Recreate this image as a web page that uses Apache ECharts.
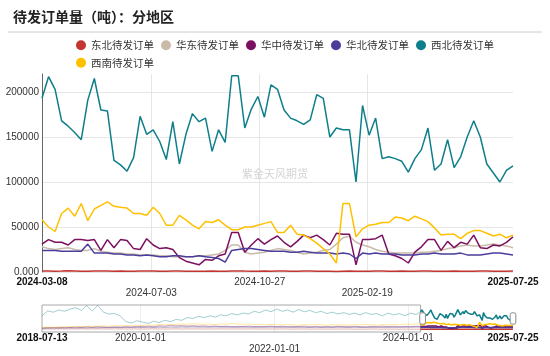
<!DOCTYPE html>
<html><head><meta charset="utf-8">
<script src="https://cdn.jsdelivr.net/npm/echarts@6/dist/echarts.min.js"></script>
<style>html,body{margin:0;padding:0;background:#fff}#c{width:550px;height:356px}</style>
</head><body><div id="c"></div><script>
const titleText = '待发订单量（吨）：分地区';
const watermarkText = '紫金天风期货';
const seriesNames = ['东北待发订单','华东待发订单','华中待发订单','华北待发订单','西北待发订单','西南待发订单'];
const seriesColors = ['#c23531','#c9bba8','#7b1060','#4a3d9c','#0e7f8a','#ffc000'];

const yTickValues = [0, 50000, 100000, 150000, 200000];
const yTickLabels = ['0.000', '50000', '100000', '150000', '200000'];
const mainTickLabels = ['2024-03-08','2024-07-03','2024-10-27','2025-02-19','2025-07-25'];
const sliderTickLabels = ['2018-07-13','2020-01-01','2022-01-01','2024-01-01','2025-07-25'];

const recentDates = [
'2024-03-08','2024-03-15','2024-03-22','2024-03-29','2024-04-05','2024-04-12','2024-04-19','2024-04-26','2024-05-03','2024-05-10',
'2024-05-17','2024-05-24','2024-05-31','2024-06-07','2024-06-14','2024-06-21','2024-06-28','2024-07-05','2024-07-12','2024-07-19',
'2024-07-26','2024-08-02','2024-08-09','2024-08-16','2024-08-23','2024-08-30','2024-09-06','2024-09-13','2024-09-20','2024-09-27',
'2024-10-04','2024-10-11','2024-10-18','2024-10-25','2024-11-01','2024-11-08','2024-11-15','2024-11-22','2024-11-29','2024-12-06',
'2024-12-13','2024-12-20','2024-12-27','2025-01-03','2025-01-10','2025-01-17','2025-01-24','2025-01-31','2025-02-07','2025-02-14',
'2025-02-21','2025-02-28','2025-03-07','2025-03-14','2025-03-21','2025-03-28','2025-04-04','2025-04-11','2025-04-18','2025-04-25',
'2025-05-02','2025-05-09','2025-05-16','2025-05-23','2025-05-30','2025-06-06','2025-06-13','2025-06-20','2025-06-27','2025-07-04',
'2025-07-11','2025-07-18','2025-07-25'];

const northeastRecent = [
1200,1100,900,1000,1300,1100,900,800,1000,1200,
1100,900,1000,800,900,1100,1000,1200,900,800,
1000,1100,900,800,700,900,1000,800,900,1100,
1200,1000,900,800,1000,900,1100,1000,800,900,
1000,1100,900,800,700,600,900,1000,800,700,
900,1000,1100,900,800,1000,900,800,1000,1100,
900,800,900,1000,800,700,900,1000,1100,900,
800,900,1000];
const eastRecent = [
28000,26000,25000,26000,27000,25000,24000,24000,26000,23000,
22000,21000,21000,20000,20000,19000,19000,19000,18000,18000,
17000,17000,17000,17000,18000,18000,19000,20000,24000,30000,
30000,22000,20000,21000,22000,24000,26000,25000,24000,22000,
20000,21000,22000,24000,25000,31000,38000,40000,33000,30000,
28000,25000,23000,22000,21000,21000,21000,21000,22000,22000,
23000,24000,26000,27000,29000,30000,29000,29000,30000,31000,
30000,29000,27000];
const centralRecent = [
31000,36000,33000,33000,30000,36000,36000,35000,36000,24000,
36000,27000,36000,35000,26000,25000,37000,30000,26000,27000,
25000,16000,12000,10000,8000,14000,13000,18000,20000,44000,
44000,22000,30000,37000,31000,36000,40000,33000,28000,34000,
41000,38000,41000,36000,30000,43000,42000,42000,8000,36000,
36000,37000,41000,20000,18000,15000,10000,22000,28000,36000,
36000,24000,34000,27000,33000,31000,41000,27000,26000,30000,
29000,33000,39000];
const northRecent = [
24000,24000,24000,23000,23000,23000,23000,31000,21000,21000,
21000,20000,20000,19000,19000,18000,19000,18000,17000,17000,
18000,18000,17000,17000,18000,17000,16000,15000,11000,24000,
25000,26000,26000,25000,24000,23000,23000,23000,22000,22000,
23000,22000,21000,21000,21000,20000,21000,20000,15000,21000,
20000,21000,20000,20000,20000,19000,19000,19000,20000,20000,
21000,20000,20000,20000,21000,19000,19000,19000,20000,21000,
21000,20000,19000];
const northwestRecent = [
193000,217000,203000,168000,162000,155000,147000,191000,215000,180000,
179000,124000,119000,112000,127000,173000,153000,158000,145000,125000,
167000,120000,153000,176000,167000,171000,134000,158000,144000,218000,
218000,160000,181000,195000,172000,208000,203000,180000,171000,168000,
164000,169000,197000,193000,150000,160000,158000,158000,100000,185000,
152000,171000,126000,128000,126000,123000,111000,126000,136000,160000,
113000,120000,147000,116000,128000,150000,168000,150000,120000,110000,
100000,113000,118000];
const southwestRecent = [
58000,50000,45000,65000,71000,62000,76000,57000,70000,74000,
78000,73000,72000,71000,65000,65000,63000,72000,65000,52000,
52000,63000,58000,52000,48000,56000,55000,58000,52000,47000,
47000,50000,50000,52000,54000,56000,44000,44000,52000,42000,
41000,37000,32000,26000,20000,10000,76000,76000,39000,48000,
52000,53000,55000,55000,61000,60000,57000,62000,59000,56000,
49000,41000,42000,42000,37000,43000,46000,46000,43000,40000,
42000,38000,41000];

const historyDates = [
'2018-07-13','2018-08-13','2018-09-13','2018-10-13','2018-11-13','2018-12-13',
'2019-01-13','2019-02-13','2019-03-13','2019-04-13','2019-05-13','2019-06-13','2019-07-13','2019-08-13','2019-09-13','2019-10-13','2019-11-13','2019-12-13',
'2020-01-13','2020-02-13','2020-03-13','2020-04-13','2020-05-13','2020-06-13','2020-07-13','2020-08-13','2020-09-13','2020-10-13','2020-11-13','2020-12-13',
'2021-01-13','2021-02-13','2021-03-13','2021-04-13','2021-05-13','2021-06-13','2021-07-13','2021-08-13','2021-09-13','2021-10-13','2021-11-13','2021-12-13',
'2022-01-13','2022-02-13','2022-03-13','2022-04-13','2022-05-13','2022-06-13','2022-07-13','2022-08-13','2022-09-13','2022-10-13','2022-11-13','2022-12-13',
'2023-01-13','2023-02-13','2023-03-13','2023-04-13','2023-05-13','2023-06-13','2023-07-13','2023-08-13','2023-09-13','2023-10-13','2023-11-13','2023-12-13',
'2024-01-13','2024-02-13'];
const northeastHistory = [
3000,4000,3000,5000,4000,3000,
4000,5000,3000,4000,5000,4000,3000,4000,5000,3000,4000,4000,
3000,4000,5000,4000,3000,4000,5000,3000,4000,5000,4000,3000,
4000,3000,5000,4000,3000,4000,3000,5000,4000,3000,4000,3000,
3000,4000,3000,2000,3000,4000,2000,3000,2000,3000,2000,3000,
2000,3000,2000,1000,2000,3000,2000,1000,2000,2000,1000,2000,
1000,1000];
const eastHistory = [
10000,12000,11000,14000,12000,15000,
14000,16000,15000,18000,16000,19000,17000,20000,18000,21000,19000,22000,
20000,23000,21000,25000,22000,26000,24000,28000,25000,27000,24000,26000,
25000,28000,26000,30000,27000,25000,28000,24000,27000,25000,28000,26000,
24000,27000,25000,23000,26000,24000,22000,25000,23000,26000,24000,27000,
25000,23000,26000,24000,22000,25000,23000,26000,24000,27000,25000,28000,
26000,28000];
const centralHistory = [
15000,18000,20000,17000,22000,20000,
25000,22000,28000,24000,30000,26000,22000,28000,25000,30000,27000,32000,
30000,35000,28000,40000,35000,45000,38000,42000,36000,40000,35000,38000,
32000,36000,30000,34000,28000,32000,30000,35000,28000,33000,30000,35000,
30000,34000,28000,32000,30000,35000,28000,32000,27000,30000,28000,33000,
30000,28000,33000,30000,27000,32000,29000,35000,30000,33000,28000,32000,
30000,34000];
const northHistory = [
12000,14000,13000,15000,14000,16000,
15000,17000,16000,18000,17000,19000,18000,20000,19000,21000,20000,22000,
21000,23000,22000,24000,23000,25000,24000,26000,25000,27000,26000,25000,
24000,26000,25000,23000,24000,22000,25000,23000,24000,22000,23000,25000,
23000,22000,24000,21000,23000,22000,20000,23000,21000,22000,20000,23000,
22000,21000,23000,20000,22000,21000,23000,20000,22000,21000,23000,22000,
23000,24000];
const northwestHistory = [
150000,205000,190000,215000,200000,225000,
240000,210000,262000,205000,265000,190000,170000,175000,150000,85000,70000,95000,
80000,65000,90000,75000,100000,85000,110000,100000,130000,120000,145000,130000,
150000,135000,160000,150000,175000,160000,180000,170000,200000,185000,215000,195000,
225000,200000,215000,190000,220000,195000,210000,185000,200000,175000,190000,170000,
185000,165000,180000,160000,185000,165000,175000,150000,180000,160000,175000,150000,
180000,165000];
const southwestHistory = [
20000,25000,22000,28000,25000,30000,
28000,32000,30000,35000,33000,38000,35000,40000,38000,42000,40000,45000,
42000,48000,45000,52000,50000,55000,52000,60000,55000,62000,58000,55000,
58000,52000,60000,55000,65000,58000,55000,60000,52000,58000,50000,55000,
52000,48000,55000,50000,45000,52000,48000,55000,50000,45000,52000,48000,
50000,45000,52000,48000,55000,50000,45000,52000,48000,55000,50000,58000,
55000,60000];

const recentSets = [northeastRecent, eastRecent, centralRecent, northRecent, northwestRecent, southwestRecent];
const historySets = [northeastHistory, eastHistory, centralHistory, northHistory, northwestHistory, southwestHistory];

const P = s => echarts.number.parseDate(s).getTime();
const pairs = (dates, vals) => vals.map((v, i) => [P(dates[i]), v]);
function findLabel(list, v){ return list.findIndex(s => Math.abs(P(s) - v) < 6 * 3600000); }

const MIN = 60000;
const mainRows = [1, 2, 1, 2, 1];
const sliderRows = [1, 1, 2, 1, 1];
function labelValues(list){
  return list.map((s, i) => i === 0 ? P(s) + MIN : (i === list.length - 1 ? P(s) - MIN : P(s)));
}
function makeFormatter(list, rows){
  return function(v){
    const i = findLabel(list, v);
    if (i < 0) return '';
    const s = list[i];
    const bold = (i === 0 || i === list.length - 1);
    const t = bold ? '{b|' + s + '}' : '{n|' + s + '}';
    return rows[i] === 2 ? '{n|}\n' + t : t;
  };
}
const rich = {
  b: { fontWeight: 'bold', color: '#111', fontSize: 10, lineHeight: 11 },
  n: { color: '#333', fontSize: 10, lineHeight: 11 }
};

const series = [];
seriesNames.forEach((name, k) => {
  series.push({
    name, type: 'line', xAxisIndex: 0, yAxisIndex: 0, data: pairs(recentDates, recentSets[k]),
    symbol: 'none', showSymbol: false, color: seriesColors[k],
    lineStyle: { width: 1.5, color: seriesColors[k] }, z: 2 + k
  });
});
seriesNames.forEach((name, k) => {
  const full = pairs(historyDates, historySets[k]).concat(pairs(recentDates, recentSets[k]));
  const s = {
    name, type: 'line', xAxisIndex: 1, yAxisIndex: 1, data: full, silent: true,
    symbol: 'none', showSymbol: false, color: seriesColors[k],
    lineStyle: { width: 1, color: seriesColors[k], opacity: 0.38 }, z: 2
  };
  if (k === 0) {
    s.markArea = {
      silent: true,
      itemStyle: { color: 'rgba(0,0,0,0)', borderColor: '#a8a8a8', borderWidth: 1 },
      data: [[{ xAxis: P(historyDates[0]) }, { xAxis: P(recentDates[0]) }]]
    };
  }
  series.push(s);
});
seriesNames.forEach((name, k) => {
  series.push({
    name, type: 'line', xAxisIndex: 1, yAxisIndex: 1, data: pairs(recentDates, recentSets[k]), silent: true,
    symbol: 'none', showSymbol: false, color: seriesColors[k],
    lineStyle: { width: 1.5, color: seriesColors[k] }, z: 3
  });
});
// invisible carrier for the range slider (spans the full history)
series.push({
  type: 'line', xAxisIndex: 2, yAxisIndex: 1, silent: true, symbol: 'none', showSymbol: false,
  data: pairs(historyDates, northwestHistory).concat(pairs(recentDates, northwestRecent)),
  lineStyle: { opacity: 0 }, z: 0
});

const chart = echarts.init(document.getElementById('c'), null, { renderer: 'canvas' });
chart.setOption({
  animation: false,
  backgroundColor: '#fff',
  textStyle: { fontFamily: "'Liberation Sans', 'Noto Sans CJK SC', sans-serif" },
  title: [
    { text: titleText, left: 13, top: 10, padding: 0,
      textStyle: { fontSize: 14, fontWeight: 'bold', color: '#222', fontFamily: "'Noto Sans CJK SC', sans-serif" } },
    { text: watermarkText, left: 'center', top: 168, padding: 0,
      textStyle: { fontSize: 11, fontWeight: 'normal', color: '#d4d4d4', fontFamily: "'Noto Sans CJK SC', sans-serif" } }
  ],
  graphic: [
    { type: 'line', shape: { x1: 8, y1: 32, x2: 542, y2: 32 }, style: { stroke: '#cccccc', lineWidth: 1 }, silent: true }
  ],
  legend: {
    data: seriesNames, left: 76, top: 40, width: 440, padding: 0,
    itemWidth: 10, itemHeight: 10, itemGap: 7, icon: 'circle',
    textStyle: { fontSize: 10.5, width: 66, color: '#333', fontFamily: "'Noto Sans CJK SC', sans-serif" }
  },
  grid: [
    { left: 42, right: 37, top: 74, bottom: 84, containLabel: false, outerBoundsMode: 'none' },
    { left: 42, right: 37, top: 305, height: 27, containLabel: false, outerBoundsMode: 'none' }
  ],
  xAxis: [
    { type: 'value', gridIndex: 0, min: P(mainTickLabels[0]), max: P(mainTickLabels[4]),
      axisLine: { show: false }, axisTick: { show: false, customValues: mainTickLabels.slice(1, -1).map(P) },
      splitLine: { show: true, lineStyle: { color: '#e6e6e6', width: 1 } },
      axisLabel: { customValues: labelValues(mainTickLabels), formatter: makeFormatter(mainTickLabels, mainRows),
        rich, margin: 5, lineHeight: 11, fontSize: 10, color: '#333', hideOverlap: false } },
    { type: 'value', gridIndex: 1, min: P(sliderTickLabels[0]), max: P(sliderTickLabels[4]),
      axisLine: { show: false }, axisTick: { show: false, customValues: sliderTickLabels.slice(1, -1).map(P) },
      splitLine: { show: true, lineStyle: { color: '#eeeeee', width: 1 } },
      axisLabel: { customValues: labelValues(sliderTickLabels), formatter: makeFormatter(sliderTickLabels, sliderRows),
        rich, margin: 1, lineHeight: 11, fontSize: 10, color: '#333', hideOverlap: false } },
    { type: 'value', gridIndex: 1, show: false, scale: true,
      axisLine: { show: false }, axisLabel: { show: false }, splitLine: { show: false }, axisTick: { show: false } }
  ],
  yAxis: [
    { type: 'value', gridIndex: 0, min: 0, max: 220000, interval: 50000,
      axisLine: { show: true, lineStyle: { color: '#666', width: 1 } }, axisTick: { show: false },
      splitLine: { show: true, showMaxLine: false, lineStyle: { color: '#e6e6e6', width: 1 } },
      axisLabel: { showMaxLabel: false, margin: 3, fontSize: 10, color: '#333',
        formatter: v => { const i = yTickValues.indexOf(v); return i >= 0 ? yTickLabels[i] : ''; } } },
    { type: 'value', gridIndex: 1, min: -30000, max: 270000, show: false,
      axisLine: { show: false }, axisLabel: { show: false }, splitLine: { show: false }, axisTick: { show: false } }
  ],
  dataZoom: [{
    type: 'slider', xAxisIndex: 2, filterMode: 'none',
    startValue: P(recentDates[0]), endValue: P(recentDates[recentDates.length - 1]),
    left: 42, right: 37, top: 305, height: 27,
    showDataShadow: false, showDetail: false, brushSelect: false,
    backgroundColor: 'rgba(0,0,0,0)', borderColor: 'rgba(0,0,0,0)', fillerColor: 'rgba(0,0,0,0)',
    dataBackground: { lineStyle: { opacity: 0 }, areaStyle: { opacity: 0 } },
    selectedDataBackground: { lineStyle: { opacity: 0 }, areaStyle: { opacity: 0 } },
    moveHandleSize: 0,
    handleIcon: 'path://M2,0 h2 a2,2 0 0 1 2,2 v8 a2,2 0 0 1 -2,2 h-2 a2,2 0 0 1 -2,-2 v-8 a2,2 0 0 1 2,-2 z',
    handleSize: '42%',
    handleStyle: { color: '#fff', borderColor: '#8a8a8a', borderWidth: 1 },
    textStyle: { color: 'rgba(0,0,0,0)' }
  }],
  series
});
</script></body></html>
